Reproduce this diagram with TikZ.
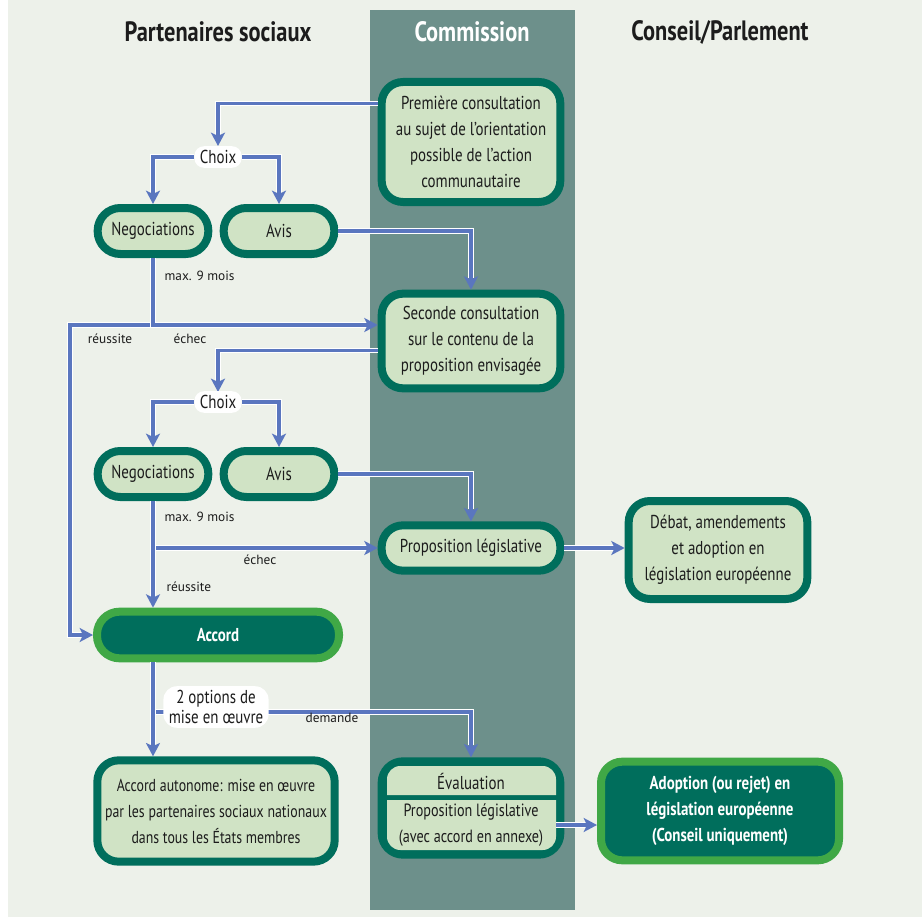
\documentclass[tikz,border=0pt]{standalone}
\usepackage{fontspec}
\setmainfont{PT Sans}[FakeStretch=0.8]
\newfontfamily\petite{PT Sans}
\usetikzlibrary{arrows.meta}

\definecolor{fond}{HTML}{EDF1EA}
\definecolor{bande}{HTML}{6D908B}
\definecolor{vertfonce}{HTML}{006E5C}
\definecolor{vertclair}{HTML}{D0E3C5}
\definecolor{vertvif}{HTML}{40A846}
\definecolor{bleu}{HTML}{5A76BF}
\definecolor{texte}{HTML}{1C1C1C}

\tikzset{
	etape/.style={rectangle, rounded corners=16pt, draw=vertfonce, line width=6pt, fill=vertclair, align=center, text=texte, inner sep=2pt, font=\fontsize{14}{19.5}\selectfont},
	pilule/.style={etape, rounded corners=17pt, minimum width=83pt, minimum height=34.5pt},
	final/.style={etape, draw=vertvif, fill=vertfonce, text=white, font=\bfseries\fontsize{14}{19.5}\selectfont},
	choix/.style={fill=white, rounded corners=7pt, inner xsep=4pt, inner ysep=3pt, text=texte, font=\fontsize{14}{15}\selectfont},
	remarque/.style={text=texte, inner sep=1pt, font=\petite\fontsize{10}{12}\selectfont},
	titre/.style={font=\bfseries\fontsize{21}{24}\selectfont},
	fleche/.style={draw=bleu, line width=2.6pt, -{Stealth[length=10pt,width=10.5pt,inset=2.5pt]},
		preaction={draw=white, line width=4pt, arrows=-, shorten >=9pt}}
}

\begin{document}
\begin{tikzpicture}[x=0.75pt,y=-0.75pt]
	\useasboundingbox (0,0) rectangle (922,917);
	\fill[fond] (8,0) rectangle (922,917);
	\fill[bande] (370,10) rectangle (575,910);
	% titres des colonnes
	\node [titre,text=texte] (tpart) at (218,32) {Partenaires sociaux};
	\node [titre,text=white] (tcomm) at (472,32) {Commission};
	\node [titre,text=texte] (tcons) at (720,32) {Conseil/Parlement};
	% premiere phase
	\node [etape,minimum width=134pt,minimum height=90pt] (cons1) at (471,142) {Première consultation\\au sujet de l'orientation\\possible de l'action\\communautaire};
	\node [pilule] (neg1) at (153,231) {Negociations};
	\node [pilule] (avis1) at (279,231) {Avis};
	\node [etape,minimum width=134pt,minimum height=71pt] (cons2) at (471,341) {Seconde consultation\\sur le contenu de la\\proposition envisagée};
	% seconde phase
	\node [pilule] (neg2) at (153,474) {Negociations};
	\node [pilule] (avis2) at (279,474) {Avis};
	\node [etape,minimum width=134pt,minimum height=34pt] (prop) at (471,548) {Proposition législative};
	\node [etape,minimum width=134pt,minimum height=73.5pt] (debat) at (718,550) {Débat, amendements\\et adoption en\\législation européenne};
	\node [final,rounded corners=17pt,minimum width=181.5pt,minimum height=35pt] (accord) at (218,635) {Accord};
	% mise en oeuvre
	\node [etape,font=\fontsize{13}{19.5}\selectfont,minimum width=178pt,minimum height=76pt] (autonome) at (216,811) {Accord autonome: mise en œuvre\\par les partenaires sociaux nationaux\\dans tous les États membres};
	\node [etape,fill=vertfonce,minimum width=134pt,minimum height=70pt] (evalcadre) at (471,808) {};
	\fill[vertclair] (387,795) [rounded corners=10pt] -- (387,766) -- (556,766) [sharp corners] -- (556,795) -- cycle;
	\fill[vertclair] (387,800) -- (556,800) [rounded corners=10pt] -- (556,850) -- (387,850) [sharp corners] -- cycle;
	\node [etape,draw=none,fill=none,inner sep=0pt] (evaltitre) at (471,781) {Évaluation};
	\node [etape,draw=none,fill=none,inner sep=0pt,minimum width=122pt,font=\fontsize{13.3}{19}\selectfont] (evalprop) at (471,825) {Proposition législative\\(avec accord en annexe)};
	\node [final,minimum width=178.5pt,minimum height=74pt] (adoption) at (720,811) {Adoption (ou rejet) en\\législation européenne\\(Conseil uniquement)};
	% connecteurs
	\coordinate (j1) at (153,325);
	\coordinate (gauche1) at (70,325);
	\coordinate (j2) at (153,548);
	\coordinate (j3) at (153,712);
	\draw [fleche] (j1) -- (gauche1) |- (accord);
	\draw [fleche] (neg1) |- (cons2.west |- j1);
	\draw [fleche] (avis1) -| (cons2);
	\draw [fleche] ([yshift=-7pt]cons2.west) -| (218,392);
	\draw [fleche] (avis2) -| (prop);
	\draw [fleche] (j2) -- (prop);
	\draw [fleche] (neg2) -- (neg2 |- accord.north);
	\draw [fleche] (prop.east) -- (prop.east -| debat.west);
	\draw [fleche] (j3) -| (evalcadre);
	\draw [fleche] (accord.south -| j3) -- (autonome.north -| j3);
	\draw [fleche] (evalprop.east) -- (evalprop.east -| adoption.west);
	\draw [fleche] ([yshift=29pt]cons1.west) -| (218,146);
	% choix
	\node [choix] (choix1) at (218,157) {Choix};
	\node [choix] (choix2) at (218,402) {Choix};
	\draw [fleche] (choix1) -| (neg1);
	\draw [fleche] (choix1) -| (avis1);
	\draw [fleche] (choix2) -| (neg2);
	\draw [fleche] (choix2) -| (avis2);
	\node [choix,align=center,rounded corners=10pt,font=\fontsize{14}{15}\selectfont] (options) at (216,707) {2 options de\\mise en œuvre};
	% etiquettes
	\node [remarque,anchor=west] (mois1) at (163,276) {max. 9 mois};
	\node [remarque] (reuss1) at (110,339) {réussite};
	\node [remarque] (echec1) at (190,339) {échec};
	\node [remarque,anchor=west] (mois2) at (163,517) {max. 9 mois};
	\node [remarque] (echec2) at (260,560) {échec};
	\node [remarque,anchor=west] (reuss2) at (165,587) {réussite};
	\node [remarque] (demande) at (332,718) {demande};
\end{tikzpicture}
\end{document}
